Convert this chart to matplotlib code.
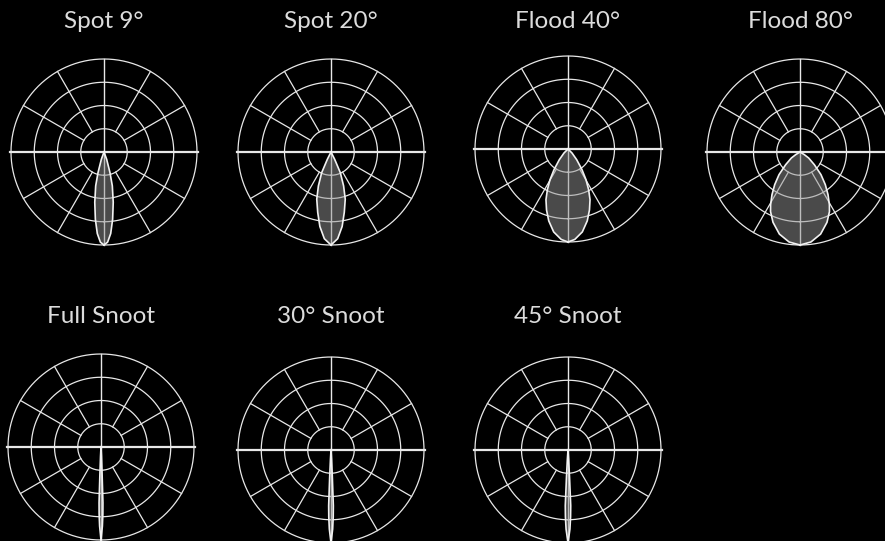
import matplotlib.pyplot as plt
import numpy as np

# Titel for hver lyskegle
titles = ["Spot 9°", "Spot 20°", "Flood 40°", "Flood 80°",
          "Full Snoot", "30° Snoot", "45° Snoot"]

# Centre (px fra venstre, px fra toppen)
centers_x = [104, 331, 568, 800, 101, 331, 568]
centers_y = [152, 152, 149, 152, 447, 450, 450]

# Lyskegler: vinkel fra nedad-retning (grader) og relativ radius (yderring = 1)
spot9_ang = [0, 2.3, 4.7, 7.3, 10.4, 13.8, 16.2, 20, 24]
spot9_r = [1, 0.97, 0.88, 0.73, 0.55, 0.375, 0.23, 0.084, 0]
spot20_ang = [0, 4.4, 8.5, 12.4, 16.8, 20.4, 24.3, 26.6, 30]
spot20_r = [1, 0.935, 0.81, 0.665, 0.53, 0.389, 0.243, 0.088, 0]
flood40_ang = [0, 4.3, 9.8, 15.0, 19.4, 23.5, 26.9, 30.4, 34.1, 39.1, 45, 50]
flood40_r = [1, 0.975, 0.905, 0.80, 0.695, 0.594, 0.49, 0.382, 0.268, 0.148, 0.061, 0]
flood80_ang = [0, 6.9, 14.1, 21.0, 26.3, 29.1, 33.3, 37.8, 42.8, 48.5, 55.3, 58.4, 62]
flood80_r = [1, 0.975, 0.91, 0.81, 0.715, 0.65, 0.549, 0.444, 0.332, 0.206, 0.113, 0.055, 0]
snoot_r = [1, 0.85, 0.72, 0.6, 0.3, 0.1, 0]
fullsnoot_ang = [0, 1.0, 1.6, 2.0, 2.3, 2.9, 3.5]
snoot30_ang = [0, 1.2, 1.9, 2.4, 2.8, 3.4, 4.0]
snoot45_ang = [0, 1.4, 2.2, 2.8, 3.2, 3.9, 4.6]

beams = [(spot9_ang, spot9_r), (spot20_ang, spot20_r),
         (flood40_ang, flood40_r), (flood80_ang, flood80_r),
         (fullsnoot_ang, snoot_r), (snoot30_ang, snoot_r),
         (snoot45_ang, snoot_r)]

# Gitter
ring_radii = [0.25, 0.5, 0.75, 1.0]
spoke_angles = [30, 60, 120, 150, 210, 240, 300, 330]

W, H = 885, 541
R = 93  # px radius af yderring
fig = plt.figure(figsize=(W / 100, H / 100), dpi=100, facecolor="black")

circle = np.linspace(0, 2 * np.pi, 361)
grid_col = "#e8e8e8"

for title, cx, cy, (ang, rr) in zip(titles, centers_x, centers_y, beams):
    ax = fig.add_axes([(cx - R) / W, (H - cy - R) / H, 2 * R / W, 2 * R / H],
                      projection="polar")
    ax.set_facecolor("none")
    ax.set_theta_zero_location("S")
    ax.set_ylim(0, 1)
    ax.axis("off")

    for r in ring_radii:
        ax.plot(circle, [r] * len(circle), color=grid_col, lw=0.9, zorder=1, clip_on=False)
    for a in spoke_angles:
        ax.plot([np.radians(a)] * 2, [0.25, 1], color=grid_col, lw=0.9, zorder=1, clip_on=False)
    ax.plot([0, 0], [0, 1], color=grid_col, lw=1.0, zorder=1, clip_on=False)
    ax.plot([np.pi, np.pi], [0, 1], color=grid_col, lw=1.0, zorder=1, clip_on=False)
    ax.plot([np.pi / 2] * 2, [0, 1.01], color=grid_col, lw=1.6, zorder=1, clip_on=False)
    ax.plot([-np.pi / 2] * 2, [0, 1.01], color=grid_col, lw=1.6, zorder=1, clip_on=False)

    ang = np.array(ang, dtype=float)
    rr = np.array(rr, dtype=float)
    theta = np.radians(np.concatenate([-ang[::-1], ang[1:]]))
    rad = np.concatenate([rr[::-1], rr[1:]])
    ax.fill(theta, rad, facecolor="#949494", alpha=0.5, edgecolor="none", zorder=2, clip_on=False)
    ax.plot(theta, rad, color="#f2f2f2", lw=1.2, zorder=3, clip_on=False)

    base_y = 28.5 if cy < 300 else 323.3
    fig.text(cx / W, 1 - base_y / H, title, color="#dcdcdc", fontsize=17.5,
             family=["Lato", "DejaVu Sans"],
             ha="center", va="baseline")

fig.savefig("out.png", dpi=100, facecolor="black")
